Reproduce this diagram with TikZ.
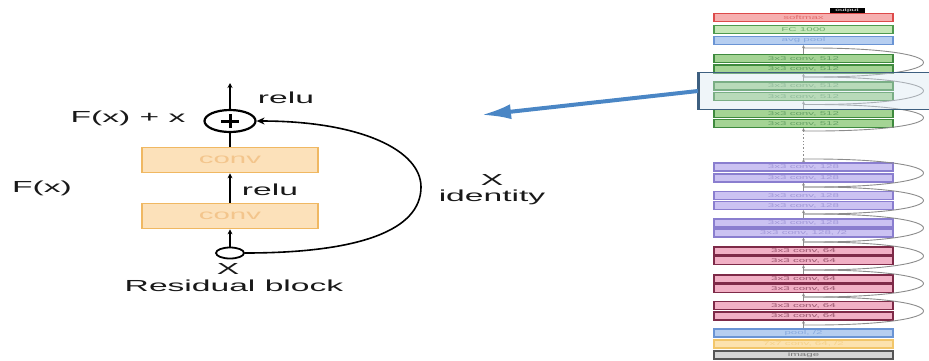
\documentclass[tikz,border=0pt]{standalone}
\usepackage{fontspec}
\setmainfont{Liberation Sans}
\newfontfamily\wf[FakeStretch=2.1]{Liberation Sans}
\usetikzlibrary{shapes.geometric,arrows.meta}
\definecolor{convfill}{HTML}{FCE1BA}
\definecolor{convdraw}{HTML}{F0B862}
\definecolor{convtext}{HTML}{F3C58C}
\definecolor{bluearrow}{HTML}{4A86C5}
\definecolor{Rd}{HTML}{DD4A4A}\definecolor{Rf}{HTML}{F6B0B0}
\definecolor{LGd}{HTML}{4E9A4E}\definecolor{LGf}{HTML}{C6E8B8}
\definecolor{Bd}{HTML}{6A94D4}\definecolor{Bf}{HTML}{B6CEF0}
\definecolor{Gd}{HTML}{3E8A3E}\definecolor{Gf}{HTML}{A4D494}
\definecolor{Pd}{HTML}{8A7ECF}\definecolor{Pf}{HTML}{CBC2F2}
\definecolor{Md}{HTML}{7E2A48}\definecolor{Mf}{HTML}{F1B0C5}
\definecolor{Od}{HTML}{F2C66A}\definecolor{Of}{HTML}{FCE2AE}
\definecolor{Kd}{HTML}{555555}\definecolor{Kf}{HTML}{D4D4D4}
\definecolor{hlfill}{HTML}{D6E5F1}
\definecolor{hldraw}{HTML}{3D5F80}
\tikzset{
  lbl/.style={inner sep=0pt, anchor=base, text=black!90, font=\wf\fontsize{16}{18}\selectfont},
  conv/.style={draw=convdraw, fill=convfill, line width=1.6pt, minimum width=176pt, minimum height=25pt, inner sep=0pt, text=convtext, font=\wf\fontsize{14}{16}\selectfont},
  arr/.style={line width=1.4pt, -{Stealth[length=5pt,width=5pt]}},
  netbox/.style={minimum width=179pt, minimum height=8pt, inner sep=0pt, line width=1.3pt, font=\wf\fontsize{5.5}{6}\selectfont},
  nb/.style={netbox, draw=#1d, fill=#1f, text=#1d!80},
  conn/.style={draw=black!45, line width=0.9pt, -{Stealth[length=3pt,width=3pt]}},
  skip/.style={draw=black!45, line width=0.9pt},
}
\begin{document}
\begin{tikzpicture}[x=1pt,y=-1pt]
\useasboundingbox (0,0) rectangle (929,360);
\clip (0,0) rectangle (929,360);
% ---------- residual block ----------
\node[conv] (c1) at (230,160) {conv};
\node[conv] (c2) at (230,216) {conv};
\node[draw, ellipse, line width=2.2pt, minimum width=51pt, minimum height=22pt, inner sep=0pt] (add) at (230,121) {};
\draw[line width=3pt] ([xshift=-9pt]add.center) -- ([xshift=9pt]add.center);
\draw[line width=3pt] ([yshift=-7pt]add.center) -- ([yshift=7pt]add.center);
\node[draw, ellipse, line width=1.8pt, minimum width=28pt, minimum height=11pt, inner sep=0pt] (xin) at (230,253) {};
\coordinate (topout) at (230,83);
\draw[arr] (add.north) -- (topout);
\draw[line width=1.4pt] (c1.north) -- (add.south);
\draw[arr] (c2.north) -- (c1.south);
\draw[arr] (xin.north) -- (c2.south);
\draw[line width=1.6pt, -{Stealth[length=8pt,width=7pt]}] (xin.east) .. controls (360,253) and (421,230) .. (421,187)
   .. controls (421,150) and (360,121) .. (add.east);
\node[lbl] (relu1) at (286,103) {relu};
\node[lbl] (fxx) at (128,122) {F(x) + x};
\node[lbl] (fx) at (42,192) {F(x)};
\node[lbl] (relu2) at (270,195) {relu};
\node[lbl] (xb) at (228,274) {X};
\node[lbl] (rb) at (234,291) {Residual block};
\node[lbl] (xr) at (492,185) {X};
\node[lbl] (idt) at (492,201) {identity};
% ---------- network column ----------
\node[fill=black, text=white, inner sep=0pt, minimum width=35pt, minimum height=7pt, font=\wf\fontsize{4}{4}\selectfont] (outp) at (847,11) {output};
\node[nb=R] (sm) at (803.5,17.5) {softmax};
\node[nb=LG] (fc) at (803.5,29.5) {FC 1000};
\node[nb=B] (ap) at (803.5,40.5) {avg pool};
\node[nb=G] (g1) at (803.5,58.5) {3x3 conv, 512};
\node[nb=G] (g2) at (803.5,69) {3x3 conv, 512};
\node[nb=G] (g3) at (803.5,86) {3x3 conv, 512};
\node[nb=G] (g4) at (803.5,96.5) {3x3 conv, 512};
\node[nb=G] (g5) at (803.5,113.5) {3x3 conv, 512};
\node[nb=G] (g6) at (803.5,123.5) {3x3 conv, 512};
\node[nb=P] (p1) at (803.5,167) {3x3 conv, 128};
\node[nb=P] (p2) at (803.5,178) {3x3 conv, 128};
\node[nb=P] (p3) at (803.5,195.5) {3x3 conv, 128};
\node[nb=P] (p4) at (803.5,205.5) {3x3 conv, 128};
\node[nb=P] (p5) at (803.5,223) {3x3 conv, 128};
\node[nb=P] (p6) at (803.5,233) {3x3 conv, 128, /2};
\node[nb=M] (m1) at (803.5,251) {3x3 conv, 64};
\node[nb=M] (m2) at (803.5,260.5) {3x3 conv, 64};
\node[nb=M] (m3) at (803.5,279) {3x3 conv, 64};
\node[nb=M] (m4) at (803.5,288.5) {3x3 conv, 64};
\node[nb=M] (m5) at (803.5,305.5) {3x3 conv, 64};
\node[nb=M] (m6) at (803.5,316) {3x3 conv, 64};
\node[nb=B] (pl) at (803.5,333) {pool, /2};
\node[nb=O] (cv) at (803.5,344) {7x7 conv, 64, /2};
\node[nb=K] (im) at (803.5,355) {image};
% junction points
\coordinate (j0) at (803.5,48);
\coordinate (j1) at (803.5,77);
\coordinate (j2) at (803.5,104.5);
\coordinate (j3) at (803.5,131);
\coordinate (j4) at (803.5,159);
\coordinate (j5) at (803.5,187);
\coordinate (j6) at (803.5,214);
\coordinate (j7) at (803.5,242);
\coordinate (j8) at (803.5,270);
\coordinate (j9) at (803.5,297);
\coordinate (j10) at (803.5,325);
% connectors
\draw[conn] (g1.north) -- (ap.south);
\draw[conn] (g3.north) -- (g2.south);
\draw[conn] (g5.north) -- (g4.south);
\draw[conn] (j3) -- (g6.south);
\draw[draw=black!45, line width=1.4pt, dotted] (j4) -- (j3);
\draw[conn] (p1.north) -- (j4);
\draw[conn] (p3.north) -- (p2.south);
\draw[conn] (p5.north) -- (p4.south);
\draw[conn] (m1.north) -- (p6.south);
\draw[conn] (m3.north) -- (m2.south);
\draw[conn] (m5.north) -- (m4.south);
\draw[conn] (pl.north) -- (m6.south);
% skip arcs
\foreach \a/\b in {j1/j0,j2/j1,j3/j2,j5/j4,j6/j5,j7/j6,j8/j7,j9/j8,j10/j9}{
  \draw[skip] (\a) .. controls ([xshift=160pt,yshift=-1pt]\a) and ([xshift=160pt,yshift=1pt]\b) .. (\b);
}
% highlight
\node[draw=hldraw, fill=hlfill, fill opacity=0.4, line width=1pt, minimum width=240pt, minimum height=37pt, inner sep=0pt, anchor=north west] (hl) at (698,72) {};
\draw[hldraw, line width=3pt] (hl.north west) -- (hl.south west);
% blue arrow
\coordinate (tip) at (481,115);
\draw[bluearrow, line width=4pt, -{Latex[length=30pt,width=15pt]}] (hl.west) -- (tip);
\end{tikzpicture}
\end{document}
